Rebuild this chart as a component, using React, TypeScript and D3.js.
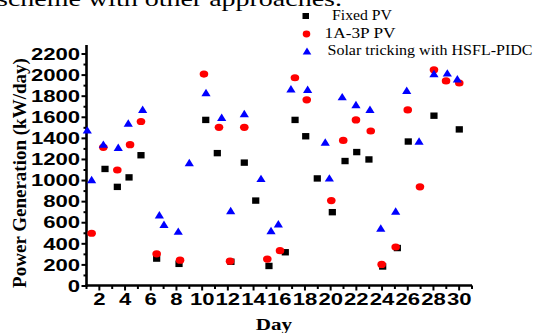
import React from "react";
import * as d3 from "d3";

const fixedDays = [2.44, 3.4, 4.31, 5.24, 6.46, 8.2, 10.28, 11.18, 12.24, 13.28, 14.17, 15.2, 16.47, 17.23, 18.06, 18.96, 20.13, 21.12, 22.03, 22.98, 24.05, 25.19, 26.04, 28.04, 30.01];
const fixedPV = [1110, 940, 1030, 1240, 260, 210, 1575, 1260, 230, 1170, 810, 190, 320, 1575, 1420, 1020, 700, 1185, 1270, 1200, 185, 360, 1370, 1615, 1485];

const pv1A3PDays = [1.4, 2.31, 3.4, 4.39, 5.24, 6.46, 8.28, 10.14, 11.31, 12.17, 13.28, 15.07, 16.06, 17.22, 18.14, 20.05, 20.98, 21.97, 23.12, 23.97, 25.06, 26.0, 26.95, 28.04, 28.98, 30.01];
const pv1A3P = [500, 1315, 1100, 1340, 1560, 305, 245, 2010, 1505, 235, 1505, 255, 335, 1975, 1765, 810, 1380, 1575, 1470, 205, 370, 1670, 940, 2050, 1945, 1925];

const hsflDays = [1.06, 1.4, 2.31, 3.47, 4.25, 5.37, 6.67, 7.03, 8.14, 9.0, 10.3, 11.52, 12.22, 13.28, 14.58, 15.36, 15.93, 16.91, 18.21, 19.58, 19.9, 20.9, 21.97, 23.06, 23.9, 25.06, 25.92, 26.88, 28.04, 29.08, 29.86];
const hsflPV = [1475, 1005, 1340, 1310, 1540, 1670, 670, 580, 515, 1165, 1830, 1595, 710, 1630, 1015, 520, 585, 1865, 1860, 1360, 1020, 1790, 1715, 1670, 545, 705, 1850, 1370, 2010, 2015, 1960];

const xTickLabels = [2, 4, 6, 8, 10, 12, 14, 16, 18, 20, 22, 24, 26, 28, 30];
const yTickLabels = [0, 200, 400, 600, 800, 1000, 1200, 1400, 1600, 1800, 2000, 2200];
const legendLabels = ["Fixed PV", "1A-3P PV", "Solar tricking with HSFL-PIDC"];

const x = d3.scaleLinear().domain([1, 31]).range([86.5, 472]);
const y = d3.scaleLinear().domain([0, 2200]).range([286, 54]);

const tri = (cx: number, cy: number, w = 4.6, h = 7.4) =>
  `M${cx},${cy - h * 0.58}L${cx + w},${cy + h * 0.42}L${cx - w},${cy + h * 0.42}Z`;

export default function App() {
  const dayTicks = d3.range(1, 32);
  const minorY = d3.range(0, 2201, 100);
  const sans = "'Liberation Sans', Arial, sans-serif";
  const serif = "'Liberation Serif', 'Times New Roman', serif";
  return (
    <svg width={534} height={333} style={{ position: "absolute", left: 0, top: 0, background: "#fff" }}>
      <rect x={0} y={0} width={534} height={333} fill="#fff" />
      {/* cut-off document text */}
      <text x={-3} y={5.5} fontFamily={serif} fontSize={21} textLength={345} lengthAdjust="spacingAndGlyphs" fill="#000">
        scheme with other approaches.
      </text>

      {/* axes */}
      <line x1={x(1)} x2={x(1)} y1={45} y2={287} stroke="#000" strokeWidth={2.6} />
      <line x1={x(1) - 1} x2={472} y1={285.5} y2={285.5} stroke="#000" strokeWidth={2.6} />
      {minorY.map((v) => (
        <line key={"yt" + v} x1={x(1)} x2={x(1) - (v % 200 === 0 ? 5 : 3)} y1={y(v)} y2={y(v)} stroke="#000" strokeWidth={2} />
      ))}
      {dayTicks.map((d) => (
        <line key={"xt" + d} x1={x(d)} x2={x(d)} y1={285.5} y2={285.5 + (d % 2 === 0 ? 5 : 3.5)} stroke="#000" strokeWidth={2} />
      ))}
      {yTickLabels.map((v) => (
        <text key={"yl" + v} transform={`translate(80,${y(v)}) scale(1.38,1)`} textAnchor="end" dy="0.36em"
          fontFamily={sans} fontWeight="bold" fontSize={16} fill="#000">{v}</text>
      ))}
      {xTickLabels.map((d) => (
        <text key={"xl" + d} transform={`translate(${x(d)},304.5) scale(1.38,1)`} textAnchor="middle"
          fontFamily={sans} fontWeight="bold" fontSize={16} fill="#000">{d}</text>
      ))}

      {/* axis titles */}
      <text transform={`translate(25.5,173) rotate(-90)`} textAnchor="middle" fontFamily={serif} fontWeight="bold"
        fontSize={19} fill="#000">Power Generation (kW/day)</text>
      <text transform={`translate(274,329.5) scale(1.32,1)`} textAnchor="middle" fontFamily={serif} fontWeight="bold"
        fontSize={16} fill="#000">Day</text>

      {/* data */}
      {fixedDays.map((d, i) => (
        <rect key={"f" + i} x={x(d) - 3.6} y={y(fixedPV[i]) - 3.2} width={7.2} height={6.4} fill="#000" />
      ))}
      {pv1A3PDays.map((d, i) => (
        <ellipse key={"r" + i} cx={x(d)} cy={y(pv1A3P[i])} rx={4.3} ry={3.6} fill="#ff0000" />
      ))}
      {hsflDays.map((d, i) => (
        <path key={"b" + i} d={tri(x(d), y(hsflPV[i]))} fill="#0000ff" />
      ))}

      {/* legend */}
      <rect x={302.5} y={13} width={6.5} height={6} fill="#000" />
      <ellipse cx={306.5} cy={34} rx={3.8} ry={3.4} fill="#ff0000" />
      <path d={tri(307, 51.5, 4.3, 7)} fill="#0000ff" />
      <text x={332} y={20} fontFamily={serif} fontSize={14} textLength={60} lengthAdjust="spacingAndGlyphs" fill="#000">{legendLabels[0]}</text>
      <text x={324.5} y={37.5} fontFamily={serif} fontSize={14} textLength={71} lengthAdjust="spacingAndGlyphs" fill="#000">{legendLabels[1]}</text>
      <text x={327.5} y={55} fontFamily={serif} fontSize={14} textLength={205} lengthAdjust="spacingAndGlyphs" fill="#000">{legendLabels[2]}</text>
    </svg>
  );
}
